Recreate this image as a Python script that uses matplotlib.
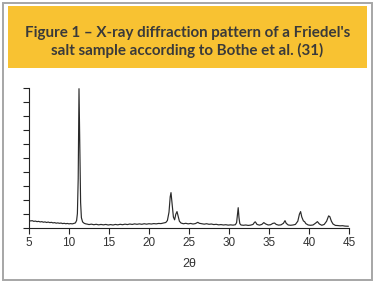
import matplotlib
matplotlib.use("Agg")
import matplotlib.pyplot as plt
from matplotlib.patches import Rectangle

# --- DATA ---
TITLE = "Figure 1 – X-ray diffraction pattern of a Friedel's\nsalt sample according to Bothe et al. (31)"
X_LABEL = "2θ"
X_TICKS = [5, 10, 15, 20, 25, 30, 35, 40, 45]
Y_TICKS = [0, 1, 2, 3, 4, 5, 6, 7, 8, 9, 10]

two_theta = [
    5.0, 5.2, 5.4, 5.6, 5.8, 6.0, 6.2, 6.4, 6.6, 6.8, 7.0, 7.2, 7.4, 7.6, 7.8,
    8.0, 8.2, 8.4, 8.6, 8.8, 9.0, 9.2, 9.4, 9.6, 9.8, 10.0, 10.2, 10.4, 10.6,
    10.8, 10.95, 11.05, 11.15, 11.25, 11.35, 11.45, 11.55, 11.7, 11.9, 12.1,
    12.3, 12.5, 12.8, 13.1, 13.4, 13.7, 14.0, 14.3, 14.6, 14.9, 15.2, 15.5,
    15.8, 16.1, 16.4, 16.7, 17.0, 17.3, 17.6, 17.9, 18.2, 18.5, 18.8, 19.1,
    19.4, 19.7, 20.0, 20.3, 20.6, 20.9, 21.2, 21.5, 21.8, 22.1, 22.3, 22.5,
    22.65, 22.75, 22.9, 23.05, 23.2, 23.35, 23.5, 23.65, 23.8, 24.0, 24.3,
    24.6, 24.9, 25.2, 25.5, 25.8, 26.0, 26.1, 26.3, 26.6, 26.9, 27.2, 27.5,
    27.8, 28.1, 28.4, 28.7, 29.0, 29.3, 29.6, 29.9, 30.2, 30.5, 30.8, 30.95,
    31.05, 31.15, 31.25, 31.35, 31.5, 31.8, 32.1, 32.4, 32.7, 33.0, 33.2,
    33.3, 33.5, 33.8, 34.1, 34.35, 34.6, 34.9, 35.2, 35.5, 35.7, 35.9, 36.2,
    36.5, 36.8, 37.0, 37.15, 37.4, 37.7, 38.0, 38.3, 38.6, 38.8, 38.95, 39.1,
    39.3, 39.45, 39.6, 39.9, 40.2, 40.5, 40.8, 41.05, 41.3, 41.6, 41.9, 42.2,
    42.45, 42.6, 42.8, 43.0, 43.3, 43.6, 43.9, 44.2, 44.5, 44.9,
]
intensity = [
    0.50, 0.47, 0.49, 0.44, 0.46, 0.42, 0.44, 0.40, 0.42, 0.38, 0.40, 0.36,
    0.39, 0.35, 0.37, 0.33, 0.35, 0.31, 0.33, 0.30, 0.32, 0.28, 0.30, 0.27,
    0.29, 0.26, 0.28, 0.26, 0.29, 0.33, 0.50, 1.00, 3.50, 9.95, 6.00, 1.80,
    0.70, 0.40, 0.30, 0.26, 0.24, 0.21, 0.24, 0.20, 0.23, 0.19, 0.22, 0.19,
    0.22, 0.18, 0.21, 0.18, 0.22, 0.19, 0.23, 0.20, 0.24, 0.21, 0.25, 0.22,
    0.26, 0.23, 0.26, 0.23, 0.27, 0.24, 0.27, 0.25, 0.28, 0.26, 0.29, 0.28,
    0.32, 0.36, 0.50, 1.10, 2.20, 2.50, 1.60, 0.75, 0.55, 0.95, 1.14, 0.80,
    0.45, 0.32, 0.27, 0.30, 0.26, 0.29, 0.25, 0.28, 0.34, 0.37, 0.30, 0.27,
    0.24, 0.27, 0.23, 0.25, 0.21, 0.23, 0.19, 0.21, 0.18, 0.20, 0.17, 0.19,
    0.17, 0.20, 0.35, 0.90, 1.42, 0.70, 0.28, 0.18, 0.16, 0.18, 0.15, 0.17,
    0.22, 0.38, 0.40, 0.22, 0.17, 0.22, 0.35, 0.25, 0.18, 0.20, 0.30, 0.32,
    0.22, 0.17, 0.19, 0.30, 0.49, 0.30, 0.18, 0.16, 0.18, 0.22, 0.45, 0.95,
    1.14, 0.75, 0.47, 0.42, 0.28, 0.18, 0.16, 0.18, 0.30, 0.42, 0.25, 0.16,
    0.22, 0.45, 0.83, 0.78, 0.45, 0.25, 0.15, 0.14, 0.12, 0.13, 0.10, 0.09,
]

# --- FIGURE ---
fig = plt.figure(figsize=(3.75, 2.87), dpi=100)
fig.patch.set_facecolor("white")

# outer grey frame
fig.patches.append(Rectangle((3 / 375, 7 / 287), 369 / 375, 277 / 287,
                             transform=fig.transFigure, facecolor="none",
                             edgecolor="#a6a6a6", linewidth=1.4))
# yellow title box
fig.patches.append(Rectangle((8 / 375, (287 - 68) / 287), 359 / 375, 62 / 287,
                             transform=fig.transFigure, facecolor="#f8c232",
                             edgecolor="none"))
fig.text(0.5, (287 - 42) / 287, TITLE, ha="center", va="center",
         fontsize=10.9, fontweight="bold", family=["Lato", "DejaVu Sans"],
         color="#3a3a3a", linespacing=1.2)

ax = fig.add_axes([29 / 375, 59.5 / 287, 320 / 375, 139.5 / 287])
ax.plot(two_theta, intensity, color="#2a2a2a", linewidth=0.85)

ax.set_xlim(5, 45)
ax.set_ylim(0, 10)
ax.set_xticks(X_TICKS)
ax.set_yticks(Y_TICKS)
ax.set_yticklabels([])
ax.set_xlabel(X_LABEL, fontsize=9, color="#333333", labelpad=6,
              family=["Liberation Sans", "DejaVu Sans"])
for lab in ax.get_xticklabels():
    lab.set_family(["Liberation Sans", "DejaVu Sans"])
ax.tick_params(axis="both", direction="out", length=4, width=0.8,
               color="#222222", labelsize=8.5, labelcolor="#333333", pad=3)
for side in ["top", "right"]:
    ax.spines[side].set_visible(False)
for side in ["left", "bottom"]:
    ax.spines[side].set_linewidth(0.8)
    ax.spines[side].set_color("#222222")

fig.savefig("out.png", dpi=100)
